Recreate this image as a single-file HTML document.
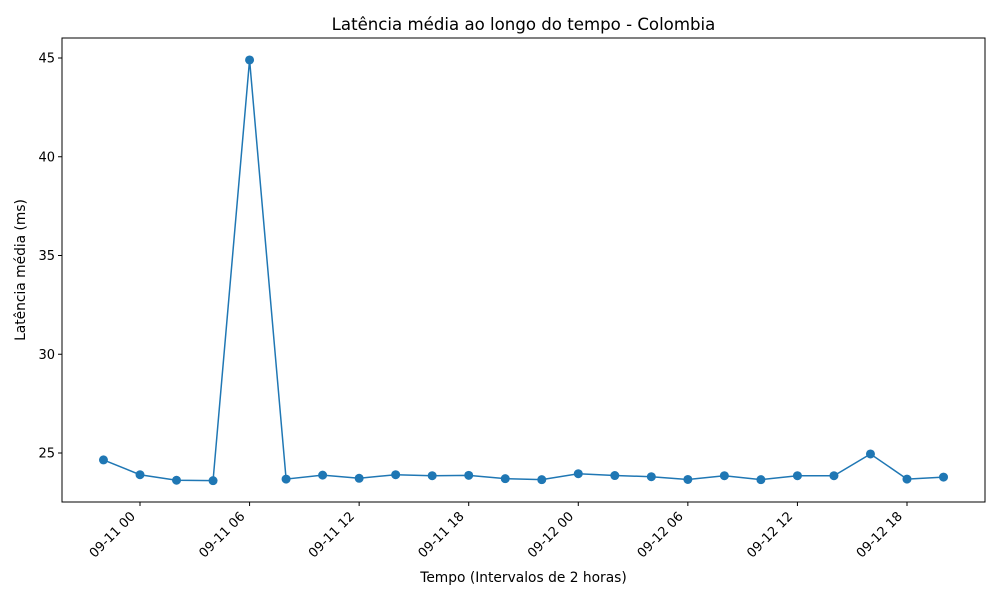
<!DOCTYPE html>
<html><head><meta charset="utf-8"><style>
body{margin:0;background:#fff;font-family:"DejaVu Sans","Liberation Sans",sans-serif}
</style></head><body>
<svg id="chart" width="1000" height="600" xmlns="http://www.w3.org/2000/svg" font-family="DejaVu Sans, Liberation Sans, sans-serif"></svg>
<script>
const hours = [-2,0,2,4,6,8,10,12,14,16,18,20,22,24,26,28,30,32,34,36,38,40,42,44];
const latency = [24.65,23.9,23.62,23.6,44.9,23.68,23.88,23.72,23.9,23.85,23.87,23.7,23.65,23.95,23.86,23.8,23.66,23.85,23.65,23.85,23.85,24.95,23.68,23.78];
const yTicks = [25,30,35,40,45];
const xTickHours = [0,6,12,18,24,30,36,42];
const xTickLabels = ["09-11 00","09-11 06","09-11 12","09-11 18","09-12 00","09-12 06","09-12 12","09-12 18"];

const L=62,R=985,T=38,B=502;
const xs=h=>140+h*(109.57/6);
const ys=v=>453-(v-25)*19.75;
const svg=document.getElementById('chart');
const NS='http://www.w3.org/2000/svg';
function mk(tag,attrs,parent){const e=document.createElementNS(NS,tag);for(const k in attrs)e.setAttribute(k,attrs[k]);(parent||svg).appendChild(e);return e;}

let frame=mk('rect',{x:L,y:T,width:R-L,height:B-T,fill:'none',stroke:'#000','stroke-width':1});



yTicks.forEach(v=>{
  const y=ys(v);
  const t=mk('line',{x1:L-4,x2:L,y1:y,y2:y,stroke:'#000'});
  
  
  const lb=mk('text',{x:L-7,y:y+4.5,'text-anchor':'end','font-size':13});
  
  
  lb.textContent=v;
});
xTickHours.forEach((h,i)=>{
  const x=xs(h);
  const t=mk('line',{x1:x,x2:x,y1:B,y2:B+4,stroke:'#000'});
  
  
  const ax=x-4, ay=B+15;
  const lb=mk('text',{x:ax,y:ay,'text-anchor':'end','font-size':13,transform:`rotate(-45 ${ax} ${ay})`});
  
  
  lb.textContent=xTickLabels[i];
});

const pts=hours.map((h,i)=>xs(h)+','+ys(latency[i])).join(' ');
const line=mk('polyline',{points:pts,fill:'none',stroke:'#1f77b4','stroke-width':1.5});


hours.forEach((h,i)=>{
  const c=mk('circle',{cx:xs(h),cy:ys(latency[i]),r:4.5,fill:'#1f77b4'});
  
  
});

const title=mk('text',{x:(L+R)/2,y:30,'text-anchor':'middle','font-size':16.6});


title.textContent='Latência média ao longo do tempo - Colombia';
const xl=mk('text',{x:(L+R)/2,y:582,'text-anchor':'middle','font-size':13.8});


xl.textContent='Tempo (Intervalos de 2 horas)';
const yl=mk('text',{x:25,y:(T+B)/2,'text-anchor':'middle','font-size':13.8,transform:`rotate(-90 25 ${(T+B)/2})`});


yl.textContent='Latência média (ms)';
</script>
</body></html>
